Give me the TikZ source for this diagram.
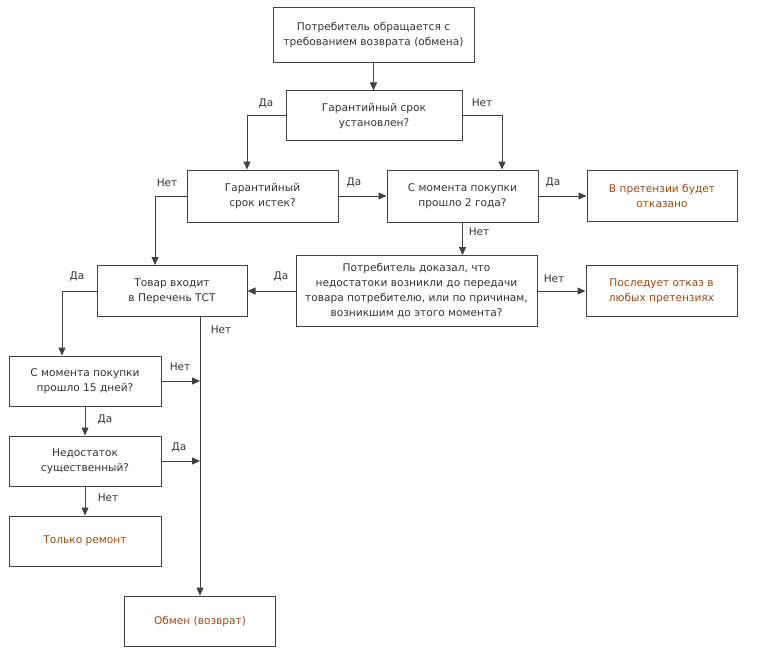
\documentclass[tikz,border=0pt]{standalone}
\usepackage{fontspec}
\setmainfont{DejaVu Sans}
\usetikzlibrary{arrows.meta}
\definecolor{ink}{HTML}{333333}
\definecolor{edge}{HTML}{404040}
\definecolor{outc}{HTML}{A04A10}
\tikzset{
  box/.style={draw=edge, line width=1pt, rectangle, align=center, text=ink,
    inner sep=0pt, font=\fontsize{10.6}{15}\selectfont},
  outbox/.style={box, text=outc},
  arr/.style={draw=edge, line width=1pt, -{Triangle[length=8pt,width=7pt]}},
  lbl/.style={text=ink, font=\fontsize{10.5}{12}\selectfont, inner sep=0pt}
}
\begin{document}
\begin{tikzpicture}[x=1pt,y=-1pt]
\useasboundingbox[fill=white] (0,0) rectangle (759,655);
\node[box, minimum width=201pt, minimum height=55pt] (A) at (373.5,35) {Потребитель обращается с\\требованием возврата (обмена)};
\node[box, minimum width=176pt, minimum height=50pt] (B) at (374,116) {Гарантийный срок\\установлен?};
\node[box, minimum width=151pt, minimum height=52pt] (C) at (262.5,196) {Гарантийный\\срок истек?};
\node[box, minimum width=151pt, minimum height=52pt] (D) at (462.5,196) {С момента покупки\\прошло 2 года?};
\node[outbox, minimum width=150pt, minimum height=51pt] (E) at (662,196) {В претензии будет\\отказано};
\node[box, minimum width=150pt, minimum height=51pt] (F) at (172,291) {Товар входит\\в Перечень ТСТ};
\node[box, minimum width=241pt, minimum height=71pt] (G) at (416.5,291) {Потребитель доказал, что\\недостатоки возникли до передачи\\товара потребителю, или по причинам,\\возникшим до этого момента?};
\node[outbox, minimum width=151pt, minimum height=51pt] (H) at (661.5,291) {Последует отказ в\\любых претензиях};
\node[box, minimum width=152pt, minimum height=50pt] (I) at (85,381) {С момента покупки\\прошло 15 дней?};
\node[box, minimum width=152pt, minimum height=50pt] (J) at (85,461) {Недостаток\\существенный?};
\node[outbox, minimum width=152pt, minimum height=50pt] (K) at (85,541) {Только ремонт};
\node[outbox, minimum width=151pt, minimum height=50pt] (L) at (200,621) {Обмен (возврат)};

\draw[arr] (A.south) -- (A.south |- B.north);
\draw[arr] (B.west) -| ([xshift=-15.5pt]C.north);
\draw[arr] (B.east) -| ([xshift=39.5pt]D.north);
\draw[arr] (C) -- (D);
\draw[arr] (C.west) -| ([xshift=-17pt]F.north);
\draw[arr] (D) -- (E);
\draw[arr] (D.south) -- (D.south |- G.north);
\draw[arr] (G) -- (F);
\draw[arr] (G) -- (H);
\draw[arr] (F.west) -| ([xshift=-23pt]I.north);
\draw[arr] (F.south -| L.north) -- (L.north);
\draw[arr] (I.east) -- (I.east -| L.north);
\draw[arr] (I) -- (J);
\draw[arr] (J.east) -- (J.east -| L.north);
\draw[arr] (J) -- (K);

\node[lbl] (l1) at (266,103) {Да};
\node[lbl] (l2) at (482,103) {Нет};
\node[lbl] (l3) at (354,182) {Да};
\node[lbl] (l4) at (167,183) {Нет};
\node[lbl] (l5) at (553,182) {Да};
\node[lbl] (l6) at (479,232) {Нет};
\node[lbl] (l7) at (281,276) {Да};
\node[lbl] (l8) at (554,279) {Нет};
\node[lbl] (l9) at (77,276) {Да};
\node[lbl] (l10) at (221,330) {Нет};
\node[lbl] (l11) at (180,367) {Нет};
\node[lbl] (l12) at (105,419) {Да};
\node[lbl] (l13) at (179,447) {Да};
\node[lbl] (l14) at (108,498) {Нет};
\end{tikzpicture}
\end{document}
